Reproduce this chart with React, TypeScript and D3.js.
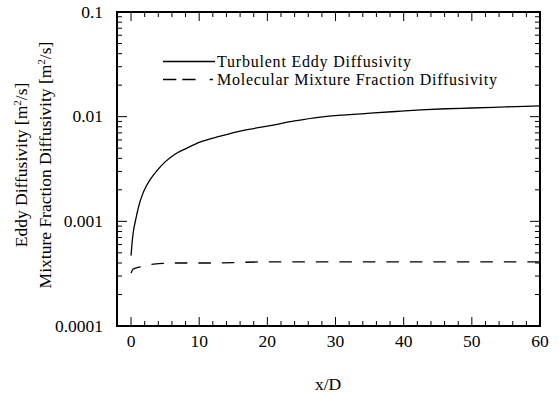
import React from "react";
import * as d3 from "d3";

const eddyX = [0, 0.15, 0.34, 0.6, 0.84, 1.2, 1.67, 2.2, 2.8, 3.8, 5, 6.5, 8.2, 10.1, 13.1, 16.5, 20.4, 24, 27.8, 31.5, 35.1, 38.8, 42.5, 46.2, 49.9, 55, 60];
const eddyY = [0.00047, 0.00062, 0.0008, 0.00098, 0.00116, 0.00145, 0.0018, 0.00215, 0.0025, 0.00305, 0.0037, 0.0044, 0.005, 0.0057, 0.0065, 0.0074, 0.0082, 0.0091, 0.0099, 0.0104, 0.0108, 0.0112, 0.0116, 0.0119, 0.0121, 0.0124, 0.0127];

const molX = [0, 0.3, 0.8, 1.6, 3.3, 6.7, 11.6, 20, 30, 40, 50, 60];
const molY = [0.00032, 0.00035, 0.00036, 0.00037, 0.00039, 0.0004, 0.0004, 0.00041, 0.00041, 0.00041, 0.00041, 0.00041];

const xTicks = [0, 10, 20, 30, 40, 50, 60];
const xMinor = d3.range(2, 60, 2).filter((v) => v % 10 !== 0);
const yTicks = [0.0001, 0.001, 0.01, 0.1];
const yTickLabels = ["0.0001", "0.001", "0.01", "0.1"];
const yMinor = [0.0001, 0.001, 0.01].flatMap((d) => d3.range(2, 10).map((k) => k * d));

const legendLabels = ["Turbulent Eddy Diffusivity", "Molecular Mixture Fraction Diffusivity"];

const FONT = "'Liberation Serif', 'Times New Roman', serif";

export default function App() {
  const L = 117, R = 540, T = 12, B = 326;
  const x = d3.scaleLinear().domain([-2.06, 60]).range([L, R]);
  const y = d3.scaleLog().domain([0.0001, 0.1]).range([B, T]);

  const line = d3
    .line<[number, number]>()
    .x((d) => x(d[0]))
    .y((d) => y(d[1]))
    .curve(d3.curveMonotoneX);

  const eddy = line(eddyX.map((v, i) => [v, eddyY[i]]) as [number, number][]) || "";
  const mol = line(molX.map((v, i) => [v, molY[i]]) as [number, number][]) || "";

  const fs = 17.5;
  const lfs = 16;

  return (
    <svg
      width={560}
      height={394}
      style={{ position: "absolute", left: 0, top: 0, background: "#fff" }}
      fontFamily={FONT}
    >
      <rect x={0} y={0} width={560} height={394} fill="#fff" />
      {/* curves */}
      <path d={eddy} fill="none" stroke="#000" strokeWidth={1.3} />
      <path d={mol} fill="none" stroke="#000" strokeWidth={1.3} strokeDasharray="12.5,11" />

      {/* x ticks bottom & top */}
      {xTicks.map((t) => (
        <g key={"xt" + t}>
          <line x1={x(t)} x2={x(t)} y1={B} y2={B - 9} stroke="#000" strokeWidth={1} />
          <line x1={x(t)} x2={x(t)} y1={T} y2={T + 9} stroke="#000" strokeWidth={1} />
          <text x={x(t)} y={346.5} textAnchor="middle" fontSize={fs}>
            {t}
          </text>
        </g>
      ))}
      {xMinor.map((t) => (
        <g key={"xm" + t}>
          <line x1={x(t)} x2={x(t)} y1={B} y2={B - 5} stroke="#000" strokeWidth={1} />
          <line x1={x(t)} x2={x(t)} y1={T} y2={T + 5} stroke="#000" strokeWidth={1} />
        </g>
      ))}

      {/* y ticks left & right */}
      {yTicks.map((t, i) => (
        <g key={"yt" + t}>
          <line x1={L} x2={L + 10} y1={y(t)} y2={y(t)} stroke="#000" strokeWidth={1} />
          <line x1={R} x2={R - 10} y1={y(t)} y2={y(t)} stroke="#000" strokeWidth={1} />
          <text x={103} y={y(t) + 5.6} textAnchor="end" fontSize={fs}>
            {yTickLabels[i]}
          </text>
        </g>
      ))}
      {yMinor.map((t) => (
        <g key={"ym" + t}>
          <line x1={L} x2={L + 5} y1={y(t)} y2={y(t)} stroke="#000" strokeWidth={1} />
          <line x1={R} x2={R - 5} y1={y(t)} y2={y(t)} stroke="#000" strokeWidth={1} />
        </g>
      ))}

      {/* frame */}
      <rect x={L} y={T} width={R - L} height={B - T} fill="none" stroke="#000" strokeWidth={2} />

      {/* legend */}
      <line x1={163} x2={215} y1={61.5} y2={61.5} stroke="#000" strokeWidth={1.3} />
      <line x1={163} x2={213.3} y1={79.5} y2={79.5} stroke="#000" strokeWidth={1.3} strokeDasharray="13.3,6,13.3,14,3.3,100" />
      <text x={217} y={66.5} fontSize={lfs} textLength={194} lengthAdjust="spacing">
        {legendLabels[0]}
      </text>
      <text x={217} y={85} fontSize={lfs} textLength={280} lengthAdjust="spacing">
        {legendLabels[1]}
      </text>

      {/* axis titles */}
      <text x={328} y={390} textAnchor="middle" fontSize={fs}>
        x/D
      </text>
      <text transform="translate(27,165) rotate(-90)" textAnchor="middle" fontSize={fs}>
        Eddy Diffusivity [m<tspan dy={-6} fontSize={11}>2</tspan>
        <tspan dy={6}>/s]</tspan>
      </text>
      <text transform="translate(51,165) rotate(-90)" textAnchor="middle" fontSize={fs}>
        Mixture Fraction Diffusivity [m<tspan dy={-6} fontSize={11}>2</tspan>
        <tspan dy={6}>/s]</tspan>
      </text>
    </svg>
  );
}
